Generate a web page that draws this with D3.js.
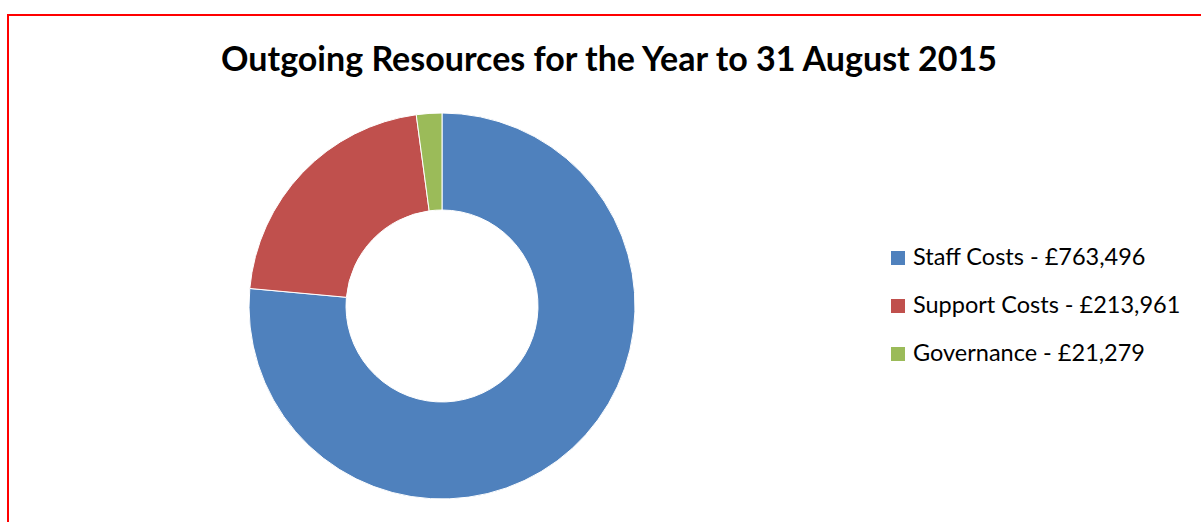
<!DOCTYPE html>
<html>
<head>
<meta charset="utf-8">
<script src="https://cdn.jsdelivr.net/npm/d3@7"></script>
<style>
  body { margin: 0; background: #fff; }
  svg { display: block; }
</style>
</head>
<body>
<svg id="chart" width="1201" height="522"></svg>
<script>
// data
const categories = ["Staff Costs", "Support Costs", "Governance"];
const values = [763496, 213961, 21279];
const colors = ["#4f81bd", "#c0504d", "#9bbb59"];

const svg = d3.select("#chart");
const fmt = d3.format(",");

// red outer frame, runs off the right and bottom of the window
svg.append("rect")
  .attr("x", 8).attr("y", 15)
  .attr("width", 1300).attr("height", 600)
  .attr("fill", "none")
  .attr("stroke", "#ff0000")
  .attr("stroke-width", 2);

svg.append("text")
  .attr("x", 609).attr("y", 71)
  .attr("text-anchor", "middle")
  .style("font-family", "Lato, 'Open Sans', sans-serif")
  .style("font-weight", "bold")
  .style("font-size", "34px")
  .text("Outgoing Resources for the Year to 31 August 2015");

const data = categories.map((c, i) => ({ name: c, value: values[i], color: colors[i] }));

const pie = d3.pie().value((d) => d.value).sort(null);
const arc = d3.arc().innerRadius(96).outerRadius(193);

const g = svg.append("g").attr("transform", "translate(442,306)");
g.selectAll("path")
  .data(pie(data))
  .enter()
  .append("path")
  .attr("d", arc)
  .attr("fill", (d) => d.data.color)
  .attr("stroke", "#fff")
  .attr("stroke-width", 1);

// legend
const legend = svg.append("g").attr("transform", "translate(891,258)");
const item = legend.selectAll("g")
  .data(data)
  .enter()
  .append("g")
  .attr("transform", (d, i) => "translate(0," + i * 48 + ")");

item.append("rect")
  .attr("x", 0).attr("y", -7)
  .attr("width", 14).attr("height", 14)
  .attr("fill", (d) => d.color);

item.append("text")
  .attr("x", 22).attr("y", 7)
  .style("font-family", "Lato, 'Open Sans', sans-serif")
  .style("font-size", "23.5px")
  .text((d) => d.name + " - £" + fmt(d.value));
</script>
</body>
</html>
